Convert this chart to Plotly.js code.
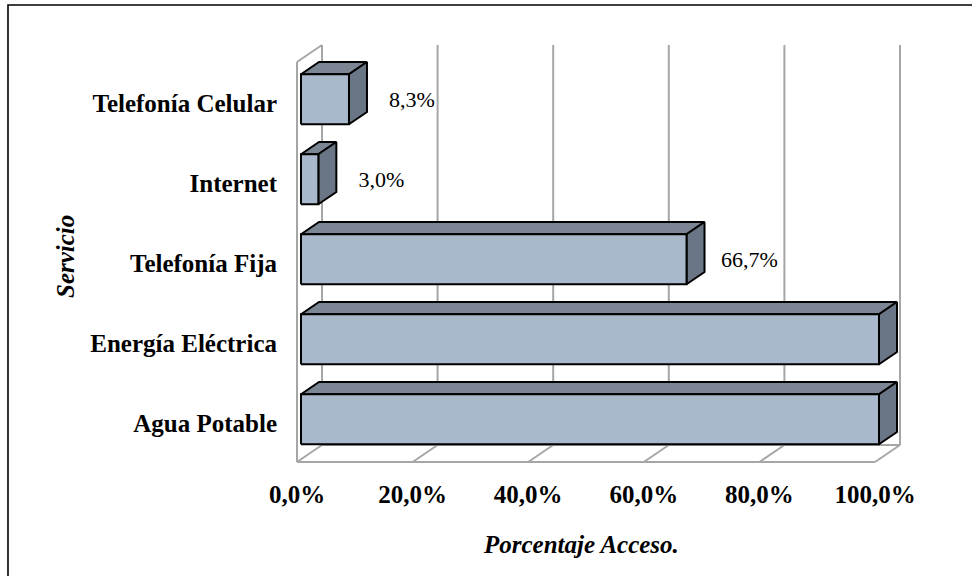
<!DOCTYPE html>
<html>
<head>
<meta charset="utf-8">
<script src="https://cdn.plot.ly/plotly-3.0.1.min.js"></script>
<style>
  html, body { margin: 0; padding: 0; background: #ffffff; }
  #chart { width: 972px; height: 576px; }
</style>
</head>
<body>
<div id="chart"></div>
<script>
// Service access by household (percent)
const categories = ['Agua Potable', 'Energía Eléctrica', 'Telefonía Fija', 'Internet', 'Telefonía Celular'];
const values = [100, 100, 66.7, 3.0, 8.3];
const showValueLabel = [false, false, true, true, true];

const xTicks = [0, 20, 40, 60, 80, 100];
const xTickText = ['0,0%', '20,0%', '40,0%', '60,0%', '80,0%', '100,0%'];

// ---- pseudo-3D projection settings ----
const PX_X = 5.78;          // pixels per percent
const PX_Y = 80;            // pixels per category slot
const DX = 25 / PX_X;       // full depth, horizontal shift in x units
const DY = 17 / PX_Y;       // full depth, vertical shift in y units
const WALL_TOP = 5;         // height of the walls (category slots)
const BAR_HALF = 0.3125;    // half thickness of a bar
const D0 = 0.16, D1 = 0.88; // bar depth span (0 = front, 1 = back wall)
const LABEL_GAP = 63 / PX_X;
const CAT_LABEL_POS = 0.48; // category label height inside its slot

const GRID = '#a6a6a6';
const FRONT = '#aab8cc', TOP = '#7c8594', SIDE = '#6a7585';
const FONT = 'Liberation Serif, Times New Roman, serif';

// project a point (x value, y level, depth d) onto the 2D data plane
function P(x, y, d) { return [x + d * DX, y + d * DY]; }

function pushPoly(acc, pts) {
  pts.forEach(p => { acc.x.push(p[0]); acc.y.push(p[1]); });
  acc.x.push(pts[0][0]); acc.y.push(pts[0][1]);
  acc.x.push(null); acc.y.push(null);
}
function pushSeg(acc, a, b) {
  acc.x.push(a[0], b[0], null); acc.y.push(a[1], b[1], null);
}

// walls and floor
const grid = { x: [], y: [] };
const xMax = xTicks[xTicks.length - 1];
xTicks.forEach(t => {
  pushSeg(grid, P(t, 0, 1), P(t, WALL_TOP, 1));   // back wall gridline
  pushSeg(grid, P(t, 0, 0), P(t, 0, 1));          // floor depth line
});
pushSeg(grid, P(0, 0, 0), P(xMax, 0, 0));          // floor front edge
pushSeg(grid, P(0, 0, 1), P(xMax, 0, 1));          // floor back edge
pushSeg(grid, P(0, 0, 0), P(0, WALL_TOP, 0));      // side wall front edge
pushSeg(grid, P(0, WALL_TOP, 0), P(0, WALL_TOP, 1)); // side wall top edge

// bars
const fronts = { x: [], y: [] }, tops = { x: [], y: [] }, sides = { x: [], y: [] };
values.forEach((v, i) => {
  const c = i + 0.5, yb = c - BAR_HALF, yt = c + BAR_HALF;
  pushPoly(tops,   [P(0, yt, D0), P(v, yt, D0), P(v, yt, D1), P(0, yt, D1)]);
  pushPoly(sides,  [P(v, yb, D0), P(v, yb, D1), P(v, yt, D1), P(v, yt, D0)]);
  pushPoly(fronts, [P(0, yb, D0), P(v, yb, D0), P(v, yt, D0), P(0, yt, D0)]);
});

// value labels
const lab = { x: [], y: [], t: [] };
values.forEach((v, i) => {
  if (!showValueLabel[i]) return;
  const p = P(v, i + 0.5, D0);
  lab.x.push(p[0] + LABEL_GAP);
  lab.y.push(p[1] - 0.03);
  lab.t.push(v.toFixed(1).replace('.', ',') + '%');
});

const poly = (acc, color) => ({
  type: 'scatter', mode: 'lines', x: acc.x, y: acc.y,
  fill: 'toself', fillcolor: color,
  line: { color: '#000000', width: 2 },
  hoverinfo: 'skip', showlegend: false
});

const traces = [
  { type: 'scatter', mode: 'lines', x: grid.x, y: grid.y,
    line: { color: GRID, width: 2 }, hoverinfo: 'skip', showlegend: false },
  poly(tops, TOP),
  poly(sides, SIDE),
  poly(fronts, FRONT),
  { type: 'scatter', mode: 'text', x: lab.x, y: lab.y, text: lab.t,
    textposition: 'middle center', cliponaxis: false,
    textfont: { family: FONT, size: 22, color: '#000000' },
    hoverinfo: 'skip', showlegend: false }
];

const plotL = 290, plotR = 910, plotT = 30, plotB = 470;
const layout = {
  width: 972, height: 576,
  margin: { l: plotL, r: 972 - plotR, t: plotT, b: 576 - plotB, pad: 0 },
  paper_bgcolor: '#ffffff', plot_bgcolor: 'rgba(0,0,0,0)',
  font: { family: FONT, color: '#000000' },
  showlegend: false,
  xaxis: {
    range: [-(297 - plotL) / PX_X, (plotR - 297) / PX_X],
    showgrid: false, zeroline: false, showline: false,
    tickmode: 'array', tickvals: xTicks, ticktext: xTickText,
    ticks: '', ticklabelstandoff: 7,
    tickfont: { family: FONT, size: 25, weight: 'bold', color: '#000000' },
    fixedrange: true
  },
  yaxis: {
    range: [-(plotB - 462) / PX_Y, (462 - plotT) / PX_Y],
    showgrid: false, zeroline: false, showline: false,
    tickmode: 'array',
    tickvals: categories.map((c, i) => i + CAT_LABEL_POS),
    ticktext: categories,
    ticks: '', ticklabelstandoff: 12,
    tickfont: { family: FONT, size: 25, weight: 'bold', color: '#000000' },
    fixedrange: true
  },
  annotations: [
    { text: 'Porcentaje Acceso.', xref: 'paper', yref: 'paper',
      x: (581 - plotL) / (plotR - plotL), y: (plotB - 544) / (plotB - plotT),
      xanchor: 'center', yanchor: 'middle', showarrow: false,
      font: { family: FONT, size: 25, weight: 'bold', style: 'italic', color: '#000000' } },
    { text: 'Servicio', xref: 'paper', yref: 'paper', textangle: -90,
      x: (65 - plotL) / (plotR - plotL), y: (plotB - 257) / (plotB - plotT),
      xanchor: 'center', yanchor: 'middle', showarrow: false,
      font: { family: FONT, size: 25, weight: 'bold', style: 'italic', color: '#000000' } }
  ],
  shapes: [
    { type: 'rect', xref: 'paper', yref: 'paper', layer: 'below',
      x0: (8 - plotL) / (plotR - plotL), x1: (990 - plotL) / (plotR - plotL),
      y0: (plotB - 600) / (plotB - plotT), y1: (plotB - 5) / (plotB - plotT),
      line: { color: '#000000', width: 1.6 }, fillcolor: 'rgba(0,0,0,0)' }
  ]
};

Plotly.newPlot('chart', traces, layout, { displayModeBar: false, staticPlot: true });
</script>
</body>
</html>
